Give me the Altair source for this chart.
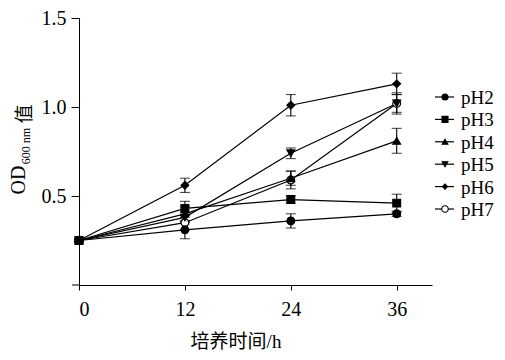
import altair as alt
import pandas as pd

times = [0, 12, 24, 36]
series = ["pH2", "pH3", "pH4", "pH5", "pH6", "pH7"]
pH2 = [0.25, 0.31, 0.36, 0.40]
pH3 = [0.25, 0.43, 0.48, 0.46]
pH4 = [0.25, 0.40, 0.60, 0.81]
pH5 = [0.25, 0.38, 0.74, 1.02]
pH6 = [0.25, 0.56, 1.01, 1.13]
pH7 = [0.25, 0.35, 0.59, 1.02]
err2 = [0.01, 0.05, 0.04, 0.015]
err3 = [0.01, 0.04, 0.02, 0.05]
err4 = [0.01, 0.04, 0.04, 0.07]
err5 = [0.01, 0.03, 0.03, 0.06]
err6 = [0.01, 0.04, 0.06, 0.06]
err7 = [0.01, 0.04, 0.05, 0.05]

shapes = ["circle", "square", "triangle-up", "triangle-down", "diamond", "circle"]
fills = ["black", "black", "black", "black", "black", "white"]
sizes = [60, 60, 55, 55, 45, 70]
draw_order = [2, 6, 3, 4, 5, 1]

vals = [pH2, pH3, pH4, pH5, pH6, pH7]
errs = [err2, err3, err4, err5, err6, err7]
rows = []
for s, v, e, z in zip(series, vals, errs, draw_order):
    for t, y, d in zip(times, v, e):
        rows.append({"time": t, "od": y, "lo": y - d, "hi": y + d, "series": s, "z": z})
df = pd.DataFrame(rows)

FONT = "Liberation Serif"
CJK = "Liberation Serif, Noto Sans CJK SC"

xscale = alt.Scale(domain=[0, 40], nice=False)
yscale = alt.Scale(domain=[0, 1.5], nice=False)

base = alt.Chart(df)

xax = alt.Axis(values=times, title=None, grid=False, tickSize=5, labelPadding=9,
               labelFont=FONT, labelFontSize=20, labelColor="black",
               domainColor="black", tickColor="black", labelAngle=0)
yax = alt.Axis(values=[0.5, 1.0, 1.5], title=None, grid=False, tickSize=8, labelPadding=5,
               labelFont=FONT, labelFontSize=20, labelColor="black", format=".1f",
               domainColor="black", tickColor="black")

lines = base.mark_line(color="black", strokeWidth=1.2).encode(
    x=alt.X("time:Q", scale=xscale, axis=xax),
    y=alt.Y("od:Q", scale=yscale, axis=yax),
    detail="series:N",
)

ebar = base.mark_rule(color="black", strokeWidth=1.1).encode(
    x="time:Q", y="lo:Q", y2="hi:Q"
)
cap_lo = base.mark_tick(color="black", orient="horizontal", size=10, thickness=1.1).encode(
    x="time:Q", y="lo:Q"
)
cap_hi = base.mark_tick(color="black", orient="horizontal", size=10, thickness=1.1).encode(
    x="time:Q", y="hi:Q"
)

pts = base.mark_point(filled=True, stroke="black", strokeWidth=1.2, opacity=1).encode(
    x="time:Q",
    y="od:Q",
    shape=alt.Shape("series:N", scale=alt.Scale(domain=series, range=shapes), legend=None),
    fill=alt.Fill("series:N", scale=alt.Scale(domain=series, range=fills), legend=None),
    size=alt.Size("series:N", scale=alt.Scale(domain=series, range=sizes), legend=None),
    order=alt.Order("z:Q"),
)

TOP = 10
H = 267
# extend x-axis line slightly left of the y axis
axis_ext = alt.Chart(pd.DataFrame({"a": [0]})).mark_rule(color="black", strokeWidth=1).encode(
    x=alt.value(-7), x2=alt.value(0), y=alt.value(H)
)

# custom legend
leg_layers = []
for i, s in enumerate(series):
    yy = 79 + 22.4 * i
    one = alt.Chart(pd.DataFrame({"series": [s]}))
    leg_layers.append(one.mark_rule(color="black", strokeWidth=1.2).encode(
        x=alt.value(356), x2=alt.value(375), y=alt.value(yy)))
    leg_layers.append(one.mark_point(filled=True, stroke="black", strokeWidth=1.1, opacity=1,
                                     shape=shapes[i], fill=fills[i], size=sizes[i] * 0.6).encode(
        x=alt.value(366), y=alt.value(yy)))
    leg_layers.append(one.mark_text(font=FONT, fontSize=19, align="left", baseline="middle",
                                    color="black").encode(
        x=alt.value(382), y=alt.value(yy + 1), text="series:N"))

# y title with subscript
tdf = pd.DataFrame({"a": [0]})
yt1 = alt.Chart(tdf).mark_text(text="OD", font=FONT, fontSize=20, angle=270,
                               align="center", baseline="middle", color="black").encode(
    x=alt.value(-60), y=alt.value(162))
yt2 = alt.Chart(tdf).mark_text(text="600 nm", font=FONT, fontSize=12, angle=270,
                               align="center", baseline="middle", color="black").encode(
    x=alt.value(-53), y=alt.value(128))
yt3 = alt.Chart(tdf).mark_text(text="值", font=CJK, fontSize=19, angle=270,
                               align="center", baseline="middle", color="black").encode(
    x=alt.value(-54), y=alt.value(96))
xt = alt.Chart(tdf).mark_text(text="培养时间/h", font=CJK, fontSize=19,
                              align="center", baseline="middle", color="black").encode(
    x=alt.value(157), y=alt.value(324))

chart = alt.layer(lines, ebar, cap_lo, cap_hi, pts, axis_ext, *leg_layers, yt1, yt2, yt3, xt).properties(
    width=353, height=H,
    padding={"left": 71, "top": TOP, "right": 65, "bottom": 68},
    autosize="none",
    background="white",
).configure_view(stroke=None)

chart.save("out.html", embed_options={"renderer": "svg", "actions": False})
